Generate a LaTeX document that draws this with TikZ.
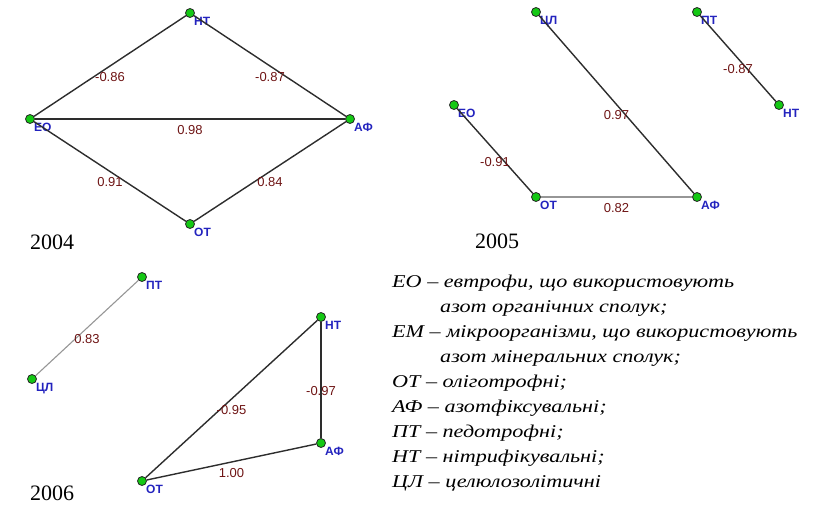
\documentclass[tikz,border=0pt]{standalone}
\usepackage{fontspec}
\setmainfont{Liberation Serif}
\setsansfont{Liberation Sans}
\newfontfamily\legfont[FakeStretch=1.23]{Liberation Serif}
\usetikzlibrary{positioning}
\definecolor{dotgreen}{RGB}{20,200,20}
\definecolor{labblue}{RGB}{35,35,190}
\definecolor{valred}{RGB}{110,20,20}
\definecolor{linegray}{RGB}{45,45,45}
\definecolor{palegray}{RGB}{150,150,150}
\begin{document}
\begin{tikzpicture}[x=1pt,y=-1pt,node distance=100pt,on grid,
	vtx/.style={circle,draw=black!85,fill=dotgreen,line width=0.8pt,inner sep=0pt,minimum size=9pt},
	nlab/.style={font=\sffamily\bfseries\fontsize{12}{12}\selectfont,text=labblue,inner sep=0.5pt,anchor=north west},
	val/.style={font=\sffamily\fontsize{13}{13}\selectfont,text=valred,midway,yshift=-11pt,inner sep=0pt},
	link/.style={draw=linegray,line width=1.4pt},
	faint/.style={draw=palegray,line width=1.1pt},
	year/.style={font=\fontsize{22}{22}\selectfont,inner sep=0pt},
	legline/.style={font=\legfont\itshape\fontsize{18}{18}\selectfont,anchor=west,inner sep=0pt}]
			\useasboundingbox (0,0) rectangle (821,509);
			% 2004
			\node[vtx,label={[nlab]south east:ЕО}](eo4) at (30,119) {};
			\node[vtx,label={[nlab]south east:НТ}](nt4)[above right=106pt and 160pt of eo4] {};
			\node[vtx,label={[nlab]south east:АФ}](af4)[right=320pt of eo4] {};
			\node[vtx,label={[nlab]south east:ОТ}](ot4)[below right=105pt and 160pt of eo4] {};
			\node[year](y4) at (52,242) {2004};
			\path
			(eo4) edge[link] node[val] {-0.86} (nt4)
			(nt4) edge[link] node[val] {-0.87} (af4)
			(eo4) edge[link] node[val] {0.98} (af4)
			(eo4) edge[link] node[val] {0.91} (ot4)
			(ot4) edge[link] node[val] {0.84} (af4);
			% 2005
			\node[vtx,label={[nlab]south east:ЦЛ}](cl5) at (536,12) {};
			\node[vtx,label={[nlab]south east:ПТ}](pt5)[right=161pt of cl5] {};
			\node[vtx,label={[nlab]south east:НТ}](nt5)[below right=93pt and 82pt of pt5] {};
			\node[vtx,label={[nlab]south east:ЕО}](eo5)[below left=93pt and 82pt of cl5] {};
			\node[vtx,label={[nlab]south east:ОТ}](ot5)[below=185pt of cl5] {};
			\node[vtx,label={[nlab]south east:АФ}](af5)[right=161pt of ot5] {};
			\node[year](y5) at (497,241) {2005};
			\path
			(pt5) edge[link] node[val] {-0.87} (nt5)
			(cl5) edge[link] node[val] {0.97} (af5)
			(eo5) edge[link] node[val] {-0.91} (ot5)
			(ot5) edge[faint] node[val] {0.82} (af5);
			% 2006
			\node[vtx,label={[nlab]south east:ПТ}](pt6) at (142,277) {};
			\node[vtx,label={[nlab]south east:ЦЛ}](cl6)[below left=102pt and 110pt of pt6] {};
			\node[vtx,label={[nlab]south east:ОТ}](ot6)[below=204pt of pt6] {};
			\node[vtx,label={[nlab]south east:НТ}](nt6)[above right=164pt and 179pt of ot6] {};
			\node[vtx,label={[nlab]south east:АФ}](af6)[below=126pt of nt6] {};
			\node[year](y6) at (52,493) {2006};
			\path
			(cl6) edge[faint] node[val] {0.83} (pt6)
			(ot6) edge[link] node[val] {-0.95} (nt6)
			(nt6) edge[link] node[val] {-0.97} (af6)
			(ot6) edge[link] node[val] {1.00} (af6);
			% legend
			\node[legline](leg1) at (392,283) {ЕО – евтрофи, що використовують};
			\node[legline](leg2) at (440,308) {азот органічних сполук;};
			\node[legline](leg3) at (392,333) {ЕМ – мікроорганізми, що використовують};
			\node[legline](leg4) at (440,358) {азот мінеральних сполук;};
			\node[legline](leg5) at (392,383) {ОТ – оліготрофні;};
			\node[legline](leg6) at (392,408) {АФ – азотфіксувальні;};
			\node[legline](leg7) at (392,433) {ПТ – педотрофні;};
			\node[legline](leg8) at (392,458) {НТ – нітрифікувальні;};
			\node[legline](leg9) at (392,483) {ЦЛ – целюлозолітичні};
			\end{tikzpicture}
\end{document}
